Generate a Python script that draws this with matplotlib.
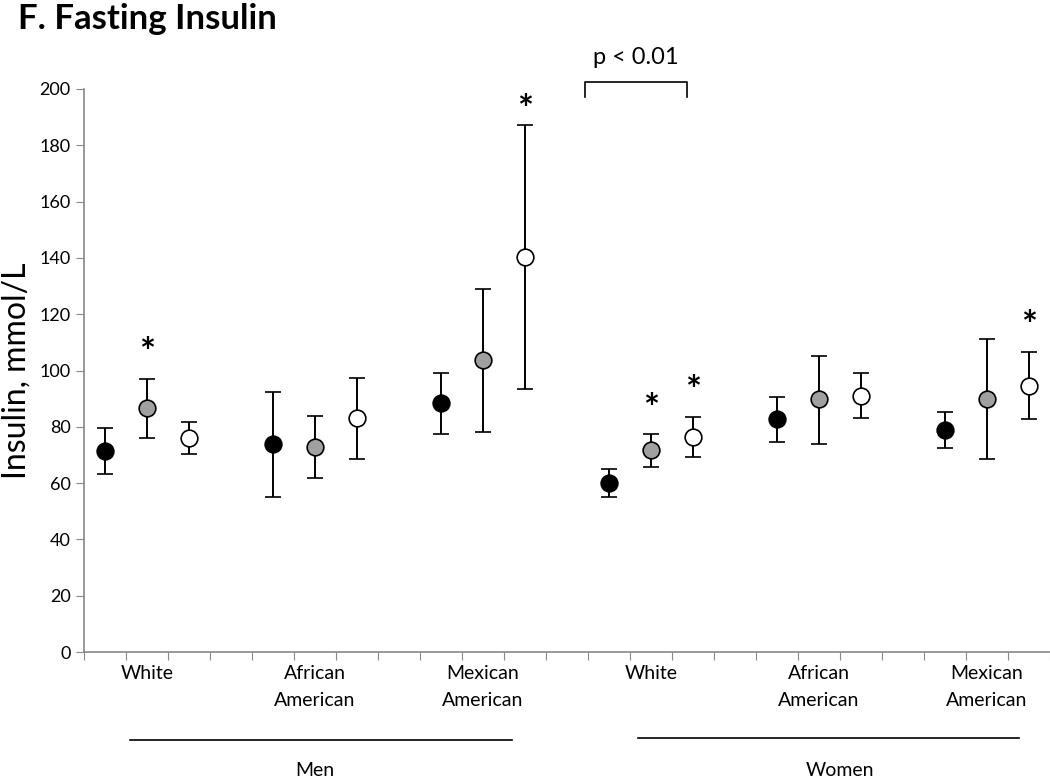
import matplotlib.pyplot as plt
import numpy as np
from matplotlib import transforms

plt.rcParams["font.family"] = ["Lato", "DejaVu Sans"]

# groups: men white / african american / mexican american, then women
group_labels = ["White", "African\nAmerican", "Mexican\nAmerican",
                "White", "African\nAmerican", "Mexican\nAmerican"]
sex_labels = ["Men", "Women"]

black_mean = [71.5, 73.8, 88.3, 60.0, 82.6, 79.0]
black_hi = [79.7, 92.5, 99.2, 65.1, 90.7, 85.4]
black_lo = [63.3, 55.0, 77.4, 55.1, 74.6, 72.6]

gray_mean = [86.7, 72.9, 103.7, 71.9, 89.9, 89.9]
gray_hi = [97.0, 83.9, 129.0, 77.6, 105.3, 111.1]
gray_lo = [76.1, 61.7, 78.3, 65.7, 74.0, 68.6]

white_mean = [76.1, 83.0, 140.2, 76.5, 91.1, 94.6]
white_hi = [81.8, 97.4, 187.3, 83.4, 99.1, 106.7]
white_lo = [70.3, 68.6, 93.4, 69.4, 83.2, 82.6]

# significance stars: (category slot, y)
star_pos = [1, 10, 13, 14, 22]
star_y = [106, 192, 86, 92.5, 115.5]

fig = plt.figure(figsize=(10.5, 7.8), dpi=100)
ax = fig.add_axes([0.08, 0.164, 0.92, 0.722])

base = np.arange(6) * 4
series = [
    (black_mean, black_hi, black_lo, "black", 0),
    (gray_mean, gray_hi, gray_lo, "#a0a0a0", 1),
    (white_mean, white_hi, white_lo, "white", 2),
]
for mean, hi, lo, fc, off in series:
    m = np.array(mean)
    yerr = [m - np.array(lo), np.array(hi) - m]
    ax.errorbar(base + off, m, yerr=yerr, fmt="o", ms=12, mfc=fc, mec="black",
                mew=1.2, ecolor="black", elinewidth=1.4, capsize=6, capthick=3.2,
                zorder=3)

for x, y in zip(star_pos, star_y):
    ax.text(x, y, "*", ha="center", va="center", fontsize=27, fontweight="bold")

ax.set_xlim(-0.5, 22.5)
ax.set_ylim(0, 200)
ax.set_yticks(np.arange(0, 201, 20))
ax.set_xticks(np.arange(-0.5, 23, 1))
ax.set_xticklabels([])
ax.set_xticks(base + 1, group_labels, minor=True)
ax.tick_params(axis="x", which="minor", length=0, pad=9, labelsize=14)
ax.tick_params(axis="x", which="major", length=6, color="#888888")
ax.tick_params(axis="y", length=6, color="#888888", labelsize=13)
for lab in ax.get_xticklabels(minor=True):
    lab.set_linespacing(1.75)
    lab.set_verticalalignment("top")

for s in ["top", "right"]:
    ax.spines[s].set_visible(False)
for s in ["left", "bottom"]:
    ax.spines[s].set_color("#888888")
    ax.spines[s].set_linewidth(1.2)

ax.set_ylabel("Insulin, mmol/L", fontsize=23, labelpad=6)

# sex group lines
trans = transforms.blended_transform_factory(ax.transData, ax.transAxes)
ax.plot([0.6, 9.7], [-0.156, -0.156], color="black", lw=1.2, transform=trans,
        clip_on=False)
ax.plot([12.7, 21.75], [-0.153, -0.153], color="black", lw=1.2, transform=trans,
        clip_on=False)
ax.text(5.0, -0.21, sex_labels[0], ha="center", va="center", fontsize=14,
        transform=trans)
ax.text(17.5, -0.21, sex_labels[1], ha="center", va="center", fontsize=14,
        transform=trans)

# bracket p < 0.01
ax.plot([11.43, 11.43, 13.86, 13.86], [197, 202.5, 202.5, 197], color="black",
        lw=1.2, clip_on=False)
ax.text(12.64, 211, "p < 0.01", ha="center", va="center", fontsize=17)

fig.text(0.017, 0.976, "F. Fasting Insulin", ha="left", va="center",
         fontsize=25, fontweight="bold")

fig.savefig("out.png", dpi=100)
